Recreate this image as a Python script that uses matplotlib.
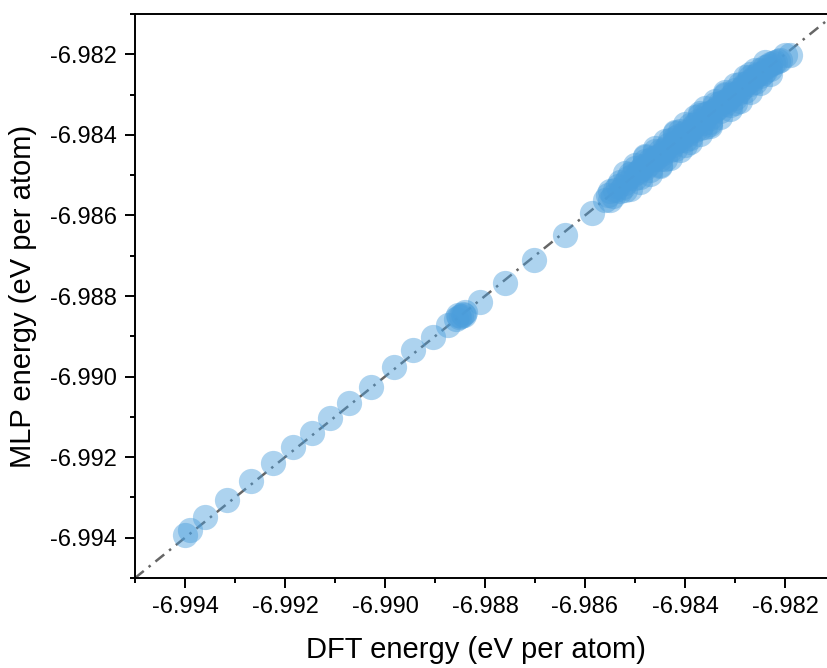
import matplotlib
matplotlib.use("Agg")
import matplotlib.pyplot as plt
from matplotlib.ticker import MultipleLocator, FormatStrFormatter

plt.rcParams['font.family'] = ['Liberation Sans', 'DejaVu Sans']

# sparse low-energy structures (DFT, MLP) in eV/atom
dft_sparse = [-6.9940, -6.9939, -6.9936, -6.99316, -6.99268, -6.99224, -6.99184,
              -6.99146, -6.99110, -6.99072, -6.99028, -6.98982, -6.98944, -6.98904,
              -6.98874, -6.98858, -6.98855, -6.98852, -6.98848, -6.98845, -6.98842,
              -6.98840, -6.98810, -6.98760, -6.98702, -6.98640, -6.98586]
mlp_sparse = [-6.99393, -6.99381, -6.99349, -6.99306, -6.99259, -6.99215, -6.99175,
              -6.99140, -6.99103, -6.99066, -6.99026, -6.98976, -6.98934, -6.98902,
              -6.98872, -6.98858, -6.98848, -6.98853, -6.98850, -6.98845, -6.98846,
              -6.98840, -6.98815, -6.98768, -6.98711, -6.98649, -6.98594]

# dense cluster near the minimum
dft_dense = [-6.9856, -6.9855, -6.9855, -6.9854, -6.9853, -6.9853, -6.9852, -6.9852,
             -6.9851, -6.9850, -6.9850, -6.9849, -6.9849, -6.9848, -6.9848, -6.9847,
             -6.9847, -6.9846, -6.9846, -6.9845, -6.9845, -6.9844, -6.9844, -6.9843,
             -6.9843, -6.9842, -6.9842, -6.9842, -6.9841, -6.9841, -6.9840, -6.9840,
             -6.9839, -6.9839, -6.9839, -6.9838, -6.9838, -6.9837, -6.9837, -6.9836,
             -6.9836, -6.9835, -6.9835, -6.9834, -6.9834, -6.9833, -6.9833, -6.9832,
             -6.9832, -6.9831, -6.9831, -6.9830, -6.9830, -6.9829, -6.9829, -6.9828,
             -6.9828, -6.9827, -6.9827, -6.9826, -6.9826, -6.9825, -6.9825, -6.9824,
             -6.9824, -6.9823, -6.9823, -6.9822, -6.9821, -6.9820, -6.9819,
             -6.98555, -6.98545, -6.98535, -6.98525, -6.98515, -6.98505, -6.98495,
             -6.98485, -6.98475, -6.98465, -6.98455, -6.98445, -6.98435, -6.98425,
             -6.98415, -6.98405, -6.98395, -6.98385, -6.98375, -6.98365, -6.98355,
             -6.98345, -6.98335, -6.98325, -6.98315, -6.98305, -6.98295, -6.98285,
             -6.98275, -6.98265, -6.98255, -6.98245, -6.98235, -6.98225, -6.98215,
             -6.9848, -6.9845, -6.9842, -6.9840, -6.9837, -6.9835, -6.9832, -6.9830,
             -6.9827, -6.9836,
             -6.9852, -6.9850, -6.9848, -6.9846, -6.9844, -6.9842, -6.9840, -6.9838,
             -6.9836, -6.9834, -6.9832, -6.9830, -6.9828, -6.9826, -6.9824,
             -6.9851, -6.9849, -6.9847, -6.9845, -6.9843, -6.9841, -6.9839, -6.9837,
             -6.9835, -6.9833, -6.9831, -6.9829, -6.9827, -6.9825, -6.9823]
mlp_dense = [-6.98562, -6.98540, -6.98562, -6.98537, -6.98516, -6.98540, -6.98519, -6.98536,
             -6.98498, -6.98506, -6.98482, -6.98486, -6.98504, -6.98464, -6.98483, -6.98488,
             -6.98462, -6.98459, -6.98441, -6.98461, -6.98439, -6.98436, -6.98459, -6.98413,
             -6.98437, -6.98418, -6.98435, -6.98408, -6.98390, -6.98414, -6.98413, -6.98392,
             -6.98375, -6.98391, -6.98408, -6.98374, -6.98389, -6.98351, -6.98384, -6.98357,
             -6.98348, -6.98357, -6.98367, -6.98324, -6.98339, -6.98341, -6.98321, -6.98302,
             -6.98324, -6.98325, -6.98305, -6.98288, -6.98308, -6.98289, -6.98274, -6.98292,
             -6.98273, -6.98257, -6.98273, -6.98269, -6.98255, -6.98240, -6.98255, -6.98242,
             -6.98232, -6.98225, -6.98237, -6.98218, -6.98214, -6.98203, -6.98203,
             -6.98550, -6.98552, -6.98528, -6.98530, -6.98508, -6.98500, -6.98492,
             -6.98478, -6.98476, -6.98457, -6.98452, -6.98446, -6.98424, -6.98426,
             -6.98402, -6.98403, -6.98397, -6.98380, -6.98366, -6.98370, -6.98346,
             -6.98342, -6.98330, -6.98318, -6.98313, -6.98298, -6.98296, -6.98281,
             -6.98268, -6.98262, -6.98250, -6.98247, -6.98230, -6.98222, -6.98217,
             -6.98455, -6.98475, -6.98396, -6.98425, -6.98346, -6.98374, -6.98298, -6.98320,
             -6.98250, -6.98380,
             -6.98494, -6.98476, -6.98452, -6.98432, -6.98415, -6.98393, -6.98372, -6.98355,
             -6.98333, -6.98316, -6.98293, -6.98275, -6.98256, -6.98238, -6.98220,
             -6.98534, -6.98518, -6.98497, -6.98478, -6.98458, -6.98437, -6.98418, -6.98397,
             -6.98378, -6.98356, -6.98336, -6.98316, -6.98294, -6.98272, -6.98250]

lims = [-6.995, -6.981]
ticks = [-6.994, -6.992, -6.990, -6.988, -6.986, -6.984, -6.982]

fig = plt.figure(figsize=(8.28, 6.68), dpi=100)
# axes run past the right edge, as in the cropped original
ax = fig.add_axes([135 / 828, 90 / 668, 700 / 828, 564 / 668])

ax.plot(lims, lims, color='#666666', lw=1.8, ls=(0, (4.5, 2.5, 1, 2.5)), zorder=1)
ax.scatter(dft_sparse + dft_dense, mlp_sparse + mlp_dense, s=330, color='#4b9edc',
           alpha=0.45, linewidths=0, zorder=2)

ax.set_xlim(lims)
ax.set_ylim(lims)
ax.set_xticks(ticks)
ax.set_yticks(ticks)
ax.xaxis.set_minor_locator(MultipleLocator(0.001))
ax.yaxis.set_minor_locator(MultipleLocator(0.001))
ax.xaxis.set_major_formatter(FormatStrFormatter('%.3f'))
ax.yaxis.set_major_formatter(FormatStrFormatter('%.3f'))

for s in ax.spines.values():
    s.set_linewidth(1.4)
ax.tick_params(which='major', direction='out', length=7, width=1.4, labelsize=17, pad=6)
ax.tick_params(which='minor', direction='out', length=3.8, width=1.4)
ax.tick_params(top=False, right=False, which='both')

ax.set_xlabel('DFT energy (eV per atom)', fontsize=21)
ax.set_ylabel('MLP energy (eV per atom)', fontsize=21)
ax.xaxis.set_label_coords(0.487, -0.103, transform=ax.transAxes)
ax.xaxis.label.set_va('top')
ax.yaxis.set_label_coords(-0.14, 0.5)

fig.savefig('out.png', dpi=100)
